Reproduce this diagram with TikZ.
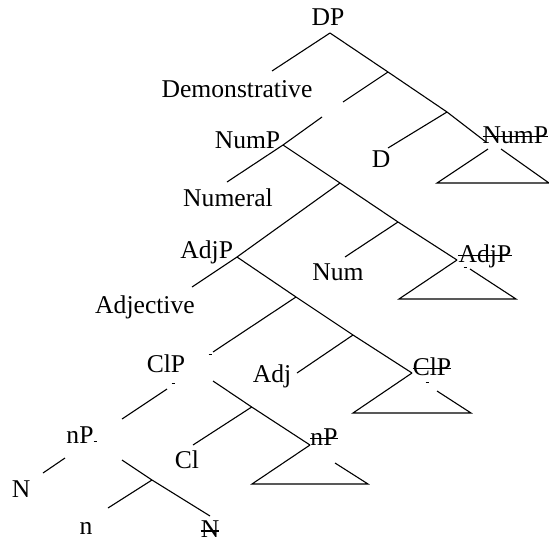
\documentclass[tikz,border=0pt]{standalone}
\usepackage{fontspec}
\setmainfont{Liberation Serif}
\begin{document}
\begin{tikzpicture}[x=1pt,y=-1pt,
  lbl/.style={inner sep=0pt, anchor=base, font=\fontsize{25.6}{30}\selectfont},
  edge/.style={line width=1.1pt},
  strike/.style={line width=1.2pt},
  tick/.style={line width=0.7pt}]
\useasboundingbox (0,0) rectangle (549,544);

% labels
\node[lbl] (dp) at (328,25) {DP};
\node[lbl] (dem) at (237,97) {Demonstrative};
\node[lbl] (nump) at (247.5,148) {NumP};
\node[lbl] (d) at (381,167) {D};
\node[lbl,anchor=base west] (numpx) at (482.5,143) {NumP};
\node[lbl] (numeral) at (228,206) {Numeral};
\node[lbl] (adjp) at (206.7,258) {AdjP};
\node[lbl] (num) at (338,280) {Num};
\node[lbl] (adjpx) at (485,262) {AdjP};
\node[lbl] (adjective) at (145,313) {Adjective};
\node[lbl] (clp) at (166,372) {ClP};
\node[lbl] (adj) at (272,382) {Adj};
\node[lbl] (clpx) at (432,375) {ClP};
\node[lbl] (np) at (80,443) {nP};
\node[lbl] (cl) at (187,468) {Cl};
\node[lbl] (npx) at (324,445) {nP};
\node[lbl] (nn) at (21,497) {N};
\node[lbl] (lown) at (86,534) {n};
\node[lbl] (nx) at (210,537.5) {N};

% strike-throughs
\foreach \s in {numpx,adjpx,clpx,npx,nx}
  \draw[strike] ([yshift=6.5pt]\s.base west) -- ([yshift=6.5pt]\s.base east);

% coordinates
\coordinate (dpA) at (330,33);
\coordinate (demE) at (272,71);
\coordinate (b1) at (388,72);
\coordinate (b2) at (447,112);
\coordinate (numpxA) at (486,142);
\coordinate (g1) at (343,102);
\coordinate (g2) at (322,117);
\coordinate (numpA) at (283,145);
\coordinate (dE) at (388,148);
\coordinate (t1l) at (488,149);
\coordinate (t1bl) at (437,183);
\coordinate (t1br) at (549,183);
\coordinate (t1r) at (501,149);
\coordinate (numeralE) at (227,182);
\coordinate (b3) at (340,183);
\coordinate (b4) at (398,222);
\coordinate (adjpxA) at (457,260);
\coordinate (adjpA) at (237,257);
\coordinate (numE) at (345,257);
\coordinate (t2bl) at (399,299);
\coordinate (t2br) at (516,299);
\coordinate (t2r) at (470,269);
\coordinate (adjectiveE) at (192,287);
\coordinate (b5) at (296,297);
\coordinate (b6) at (353,335);
\coordinate (clpxA) at (412,373);
\coordinate (clpTop) at (213,352);
\coordinate (adjE) at (297,373);
\coordinate (t3bl) at (353,413);
\coordinate (t3br) at (471,413);
\coordinate (t3r) at (437,391);
\coordinate (clpR) at (213,381);
\coordinate (b7) at (251.7,407);
\coordinate (npxA) at (310,445);
\coordinate (clE) at (193,445);
\coordinate (t4bl) at (252,484);
\coordinate (t4br) at (368,484);
\coordinate (t4r) at (335,463);
\coordinate (clpL) at (167,389);
\coordinate (npTop) at (122,419);
\coordinate (npL) at (65,458);
\coordinate (nnE) at (43,473);
\coordinate (npR) at (122,460);
\coordinate (b8) at (152,480);
\coordinate (nxE) at (210,516);
\coordinate (lownE) at (108,508);

% edges
\draw[edge] (dpA) -- (demE);
\draw[edge] (dpA) -- (b1) -- (b2) -- (numpxA);
\draw[edge] (b1) -- (g1);
\draw[edge] (g2) -- (numpA);
\draw[edge] (b2) -- (dE);
\draw[edge] (t1l) -- (t1bl) -- (t1br) -- (t1r);
\draw[edge] (numpA) -- (numeralE);
\draw[edge] (numpA) -- (b3) -- (b4) -- (adjpxA);
\draw[edge] (b3) -- (adjpA);
\draw[edge] (b4) -- (numE);
\draw[edge] (adjpxA) -- (t2bl) -- (t2br) -- (t2r);
\draw[edge] (adjpA) -- (adjectiveE);
\draw[edge] (adjpA) -- (b5) -- (b6) -- (clpxA);
\draw[edge] (b5) -- (clpTop);
\draw[edge] (b6) -- (adjE);
\draw[edge] (clpxA) -- (t3bl) -- (t3br) -- (t3r);
\draw[edge] (clpR) -- (b7) -- (npxA);
\draw[edge] (b7) -- (clE);
\draw[edge] (npxA) -- (t4bl) -- (t4br) -- (t4r);
\draw[edge] (clpL) -- (npTop);
\draw[edge] (npL) -- (nnE);
\draw[edge] (npR) -- (b8) -- (nxE);
\draw[edge] (b8) -- (lownE);

% tiny marks
\foreach \p in {(210,354),(173,383),(95,441),(427,382),(465,267)}
  \draw[tick] \p ++(-1.5,0) -- ++(3,0);
\end{tikzpicture}
\end{document}
